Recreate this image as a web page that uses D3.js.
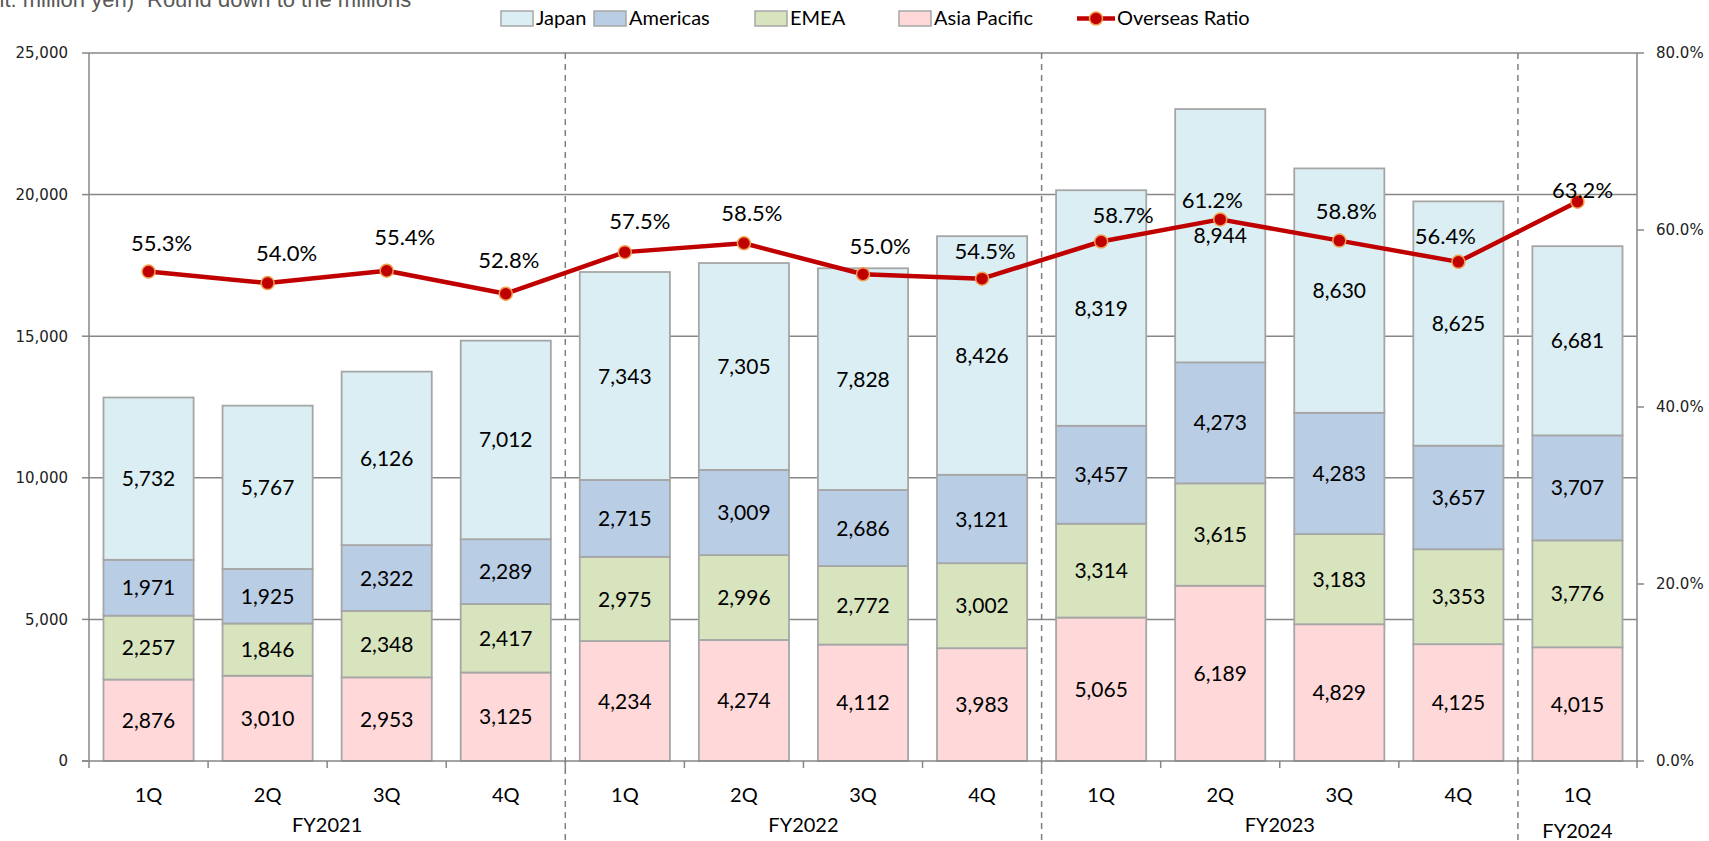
<!DOCTYPE html>
<html>
<head>
<meta charset="utf-8">
<script src="https://cdn.jsdelivr.net/npm/d3@7"></script>
<style>
  html, body { margin: 0; padding: 0; background: #fff; overflow: hidden; }
  svg { display: block; }
</style>
</head>
<body>
<div id="chart"></div>
<script>
// 数据
const quarters = ["1Q", "2Q", "3Q", "4Q", "1Q", "2Q", "3Q", "4Q", "1Q", "2Q", "3Q", "4Q", "1Q"];
const fiscalYears = ["FY2021", "FY2022", "FY2023", "FY2024"];
const quartersPerYear = [4, 4, 4, 1];

const seriesNames = ["Asia Pacific", "EMEA", "Americas", "Japan"];
const asiaPacific = [2876, 3010, 2953, 3125, 4234, 4274, 4112, 3983, 5065, 6189, 4829, 4125, 4015];
const emea = [2257, 1846, 2348, 2417, 2975, 2996, 2772, 3002, 3314, 3615, 3183, 3353, 3776];
const americas = [1971, 1925, 2322, 2289, 2715, 3009, 2686, 3121, 3457, 4273, 4283, 3657, 3707];
const japan = [5732, 5767, 6126, 7012, 7343, 7305, 7828, 8426, 8319, 8944, 8630, 8625, 6681];
const overseasRatio = [55.3, 54.0, 55.4, 52.8, 57.5, 58.5, 55.0, 54.5, 58.7, 61.2, 58.8, 56.4, 63.2];

const leftTicks = [0, 5000, 10000, 15000, 20000, 25000];
const rightTicks = [0, 20, 40, 60, 80];

// 画布大小
const width = 1709, height = 841;
const plotLeft = 89, plotRight = 1637, plotTop = 53, plotBottom = 761;

const colors = {
  "Japan": "#DAEEF3",
  "Americas": "#B9CDE5",
  "EMEA": "#D7E4BD",
  "Asia Pacific": "#FFD9DA"
};
const barStroke = "#A6A6A6";
const axisColor = "#878787";
const lineColor = "#C00000";
const labelFont = "Lato, 'Noto Sans', sans-serif";
const tickFont = "'DejaVu Sans', Verdana, sans-serif";

// 比率标签的手动微调（参考图中标签被逐个挪过位置）
const ratioLabelDx = [13, 19, 18, 3, 15, 8, 17, 3, 22, -8, 7, -13, 5];
const ratioLabelDy = [-21, -22, -26, -26, -23, -22, -20, -20, -19, -11, -22, -18, -4];

const svg = d3.select("#chart").append("svg")
  .attr("width", width)
  .attr("height", height);

const idx = d3.range(quarters.length);
const x = d3.scaleBand()
  .domain(idx)
  .range([plotLeft, plotRight])
  .paddingInner(0.243)
  .paddingOuter(0.1215);
const step = x.step();
const cx = i => x(i) + x.bandwidth() / 2;

const y = d3.scaleLinear().domain([0, 25000]).range([plotBottom, plotTop]);
const yR = d3.scaleLinear().domain([0, 80]).range([plotBottom, plotTop]);

// 网格线
svg.append("g")
  .selectAll("line")
  .data(leftTicks.filter(d => d > 0))
  .join("line")
  .attr("x1", plotLeft)
  .attr("x2", plotRight)
  .attr("y1", d => y(d))
  .attr("y2", d => y(d))
  .attr("stroke", axisColor)
  .attr("stroke-width", 1.5);

// 堆叠柱
const rows = idx.map(i => ({
  "Asia Pacific": asiaPacific[i],
  "EMEA": emea[i],
  "Americas": americas[i],
  "Japan": japan[i]
}));
const stacked = d3.stack().keys(seriesNames)(rows);

const layers = svg.append("g").selectAll("g")
  .data(stacked)
  .join("g")
  .attr("fill", d => colors[d.key]);

layers.selectAll("rect")
  .data(d => d.map((v, i) => ({ v, i })))
  .join("rect")
  .attr("x", d => x(d.i))
  .attr("width", x.bandwidth())
  .attr("y", d => y(d.v[1]))
  .attr("height", d => y(d.v[0]) - y(d.v[1]))
  .attr("stroke", barStroke)
  .attr("stroke-width", 1.8);

layers.selectAll("text")
  .data(d => d.map((v, i) => ({ v, i })))
  .join("text")
  .attr("x", d => cx(d.i))
  .attr("y", d => y((d.v[0] + d.v[1]) / 2))
  .attr("dy", "0.36em")
  .attr("text-anchor", "middle")
  .attr("font-family", labelFont)
  .attr("font-size", 21)
  .attr("fill", "#000")
  .text(d => d3.format(",")(d.v[1] - d.v[0]));

// 坐标轴
const axes = svg.append("g").attr("stroke", axisColor).attr("stroke-width", 1.5);
axes.append("line").attr("x1", plotLeft).attr("x2", plotLeft).attr("y1", plotTop).attr("y2", plotBottom);
axes.append("line").attr("x1", plotRight).attr("x2", plotRight).attr("y1", plotTop).attr("y2", plotBottom);
axes.append("line").attr("x1", plotLeft - 7).attr("x2", plotRight).attr("y1", plotBottom).attr("y2", plotBottom);
axes.selectAll(".lt").data(leftTicks).join("line")
  .attr("x1", plotLeft - 7).attr("x2", plotLeft)
  .attr("y1", d => y(d)).attr("y2", d => y(d));
axes.selectAll(".rt").data(rightTicks).join("line")
  .attr("x1", plotRight).attr("x2", plotRight + 7)
  .attr("y1", d => yR(d)).attr("y2", d => yR(d));
axes.selectAll(".bt").data(d3.range(quarters.length + 1)).join("line")
  .attr("x1", i => plotLeft + i * step).attr("x2", i => plotLeft + i * step)
  .attr("y1", plotBottom).attr("y2", plotBottom + 7);

svg.append("g").selectAll("text")
  .data(leftTicks)
  .join("text")
  .attr("x", plotLeft - 21)
  .attr("y", d => y(d))
  .attr("dy", "0.36em")
  .attr("text-anchor", "end")
  .attr("font-family", tickFont)
  .attr("font-size", 15)
  .attr("fill", "#222")
  .text(d => d3.format(",")(d));

svg.append("g").selectAll("text")
  .data(rightTicks)
  .join("text")
  .attr("x", plotRight + 19)
  .attr("y", d => yR(d))
  .attr("dy", "0.36em")
  .attr("font-family", tickFont)
  .attr("font-size", 15)
  .attr("fill", "#222")
  .text(d => d3.format(".1f")(d) + "%");

// 年度分隔虚线
const yearEnds = d3.cumsum(quartersPerYear);
svg.append("g").selectAll("line")
  .data(Array.from(yearEnds).slice(0, -1))
  .join("line")
  .attr("x1", d => plotLeft + d * step)
  .attr("x2", d => plotLeft + d * step)
  .attr("y1", plotTop)
  .attr("y2", height)
  .attr("stroke", "#7F7F7F")
  .attr("stroke-width", 1.5)
  .attr("stroke-dasharray", "6,5");

// 类别标签
svg.append("g").selectAll("text")
  .data(quarters)
  .join("text")
  .attr("x", (d, i) => cx(i))
  .attr("y", 802)
  .attr("text-anchor", "middle")
  .attr("font-family", labelFont)
  .attr("font-size", 20)
  .attr("fill", "#000")
  .text(d => d);

svg.append("g").selectAll("text")
  .data(fiscalYears)
  .join("text")
  .attr("x", (d, i) => plotLeft + (yearEnds[i] - quartersPerYear[i] / 2) * step)
  .attr("y", (d, i) => quartersPerYear[i] === 1 ? 838 : 832)
  .attr("text-anchor", "middle")
  .attr("font-family", labelFont)
  .attr("font-size", 20)
  .attr("fill", "#000")
  .text(d => d);

// 海外比率折线
const line = d3.line()
  .x((d, i) => cx(i))
  .y(d => yR(d));

svg.append("path")
  .datum(overseasRatio)
  .attr("d", line)
  .attr("fill", "none")
  .attr("stroke", lineColor)
  .attr("stroke-width", 4.5)
  .attr("stroke-linejoin", "round");

svg.append("g").selectAll("circle")
  .data(overseasRatio)
  .join("circle")
  .attr("cx", (d, i) => cx(i))
  .attr("cy", d => yR(d))
  .attr("r", 6.5)
  .attr("fill", lineColor)
  .attr("stroke", "#F0A050")
  .attr("stroke-width", 1.5);

svg.append("g").selectAll("text")
  .data(overseasRatio)
  .join("text")
  .attr("x", (d, i) => cx(i) + ratioLabelDx[i])
  .attr("y", (d, i) => yR(d) + ratioLabelDy[i])
  .attr("text-anchor", "middle")
  .attr("font-family", labelFont)
  .attr("font-size", 22)
  .attr("fill", "#000")
  .text(d => d3.format(".1f")(d) + "%");

// 单位说明（顶部被裁切）
svg.append("text")
  .attr("x", 134).attr("y", 7)
  .attr("text-anchor", "end")
  .attr("font-family", "'Liberation Sans', Arial, sans-serif")
  .attr("font-size", 22)
  .attr("fill", "#595959")
  .text("(Unit: million yen)");
svg.append("text")
  .attr("x", 147).attr("y", 7)
  .attr("font-family", "'Liberation Sans', Arial, sans-serif")
  .attr("font-size", 22)
  .attr("fill", "#595959")
  .text("Round down to the millions");

// 图例
const legendItems = ["Japan", "Americas", "EMEA", "Asia Pacific"];
const legendX = [501, 594, 755, 899];
const legend = svg.append("g");
legendItems.forEach((name, i) => {
  legend.append("rect")
    .attr("x", legendX[i]).attr("y", 11)
    .attr("width", 32).attr("height", 15)
    .attr("fill", colors[name])
    .attr("stroke", barStroke)
    .attr("stroke-width", 1.5);
  legend.append("text")
    .attr("x", legendX[i] + 35).attr("y", 25)
    .attr("font-family", labelFont)
    .attr("font-size", 20)
    .attr("fill", "#000")
    .text(name);
});
legend.append("line")
  .attr("x1", 1077).attr("x2", 1115).attr("y1", 18.5).attr("y2", 18.5)
  .attr("stroke", lineColor).attr("stroke-width", 4.5);
legend.append("circle")
  .attr("cx", 1096).attr("cy", 18.5).attr("r", 6.5)
  .attr("fill", lineColor).attr("stroke", "#F0A050").attr("stroke-width", 1.5);
legend.append("text")
  .attr("x", 1117).attr("y", 25)
  .attr("font-family", labelFont)
  .attr("font-size", 20)
  .attr("fill", "#000")
  .text("Overseas Ratio");
</script>
</body>
</html>
